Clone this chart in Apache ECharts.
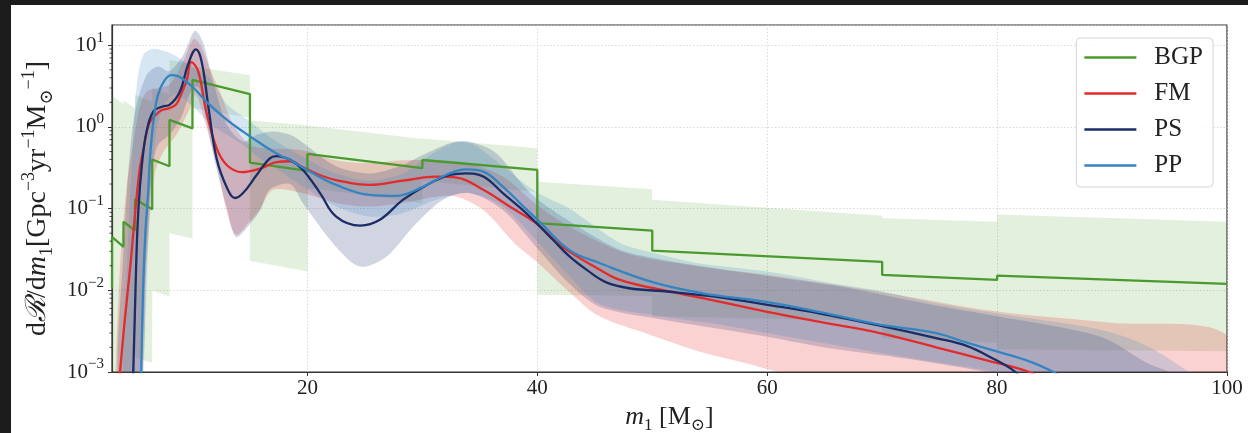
<!DOCTYPE html>
<html>
<head>
<meta charset="utf-8">
<title>dR/dm1</title>
<script src="https://cdn.jsdelivr.net/npm/echarts@6/dist/echarts.min.js"></script>
<style>
  body { margin: 0; background: #1c1c1c; }
  #main { position: absolute; left: 11px; top: 5px; width: 1237px; height: 428px; background: #fff; }
</style>
</head>
<body>
<div id="main"></div>
<script>
var FONT = '"Liberation Serif", "DejaVu Serif", serif'
var TXT = '#222'

// series colours
var cBGP = '#4b9a2d'
var cFM = '#e32b2b'
var cPS = '#1a2d66'
var cPP = '#3484c3'

// ---- BGP (binned, edges doubled for the steps) ----
var bgpLine = [
  [3, 0.0105], [3, 0.045], [4, 0.034], [4, 0.069], [5, 0.054], [5, 0.13],
  [6.5, 0.098], [6.5, 0.40], [8, 0.33], [8, 1.22], [10, 0.96], [10, 3.76],
  [15, 2.53], [15, 0.366], [20, 0.289], [20, 0.467], [30, 0.313], [30, 0.394],
  [40, 0.298], [40, 0.0663], [50, 0.0538], [50, 0.0306], [70, 0.0223],
  [70, 0.01545], [80, 0.0134], [80, 0.0151], [100, 0.01198]
]
var bgpUpper = [
  [3, 2.4], [4, 1.9], [4, 2.1], [5, 1.7], [5, 2.5], [6.5, 2.0], [6.5, 3.0],
  [8, 2.5], [8, 6.6], [10, 6.0], [10, 5.5], [15, 4.3], [15, 1.2], [20, 1.05],
  [20, 1.04], [30, 0.71], [30, 0.72], [40, 0.55], [40, 0.214], [50, 0.173],
  [50, 0.128], [70, 0.082], [70, 0.076], [80, 0.069], [80, 0.085], [100, 0.069]
]
var bgpLower = [
  [3, 0.0002], [4, 0.0002], [4, 0.0003], [5, 0.0003], [5, 0.0015], [6.5, 0.0013],
  [6.5, 0.010], [8, 0.0084], [8, 0.05], [10, 0.043], [10, 1.7], [15, 1.3],
  [15, 0.023], [20, 0.017], [20, 0.18], [30, 0.117], [30, 0.22], [40, 0.16],
  [40, 0.0088], [50, 0.0085], [50, 0.0048], [70, 0.0042], [70, 0.0026],
  [80, 0.0023], [80, 0.0019], [100, 0.0018]
]

// ---- FM ----
var fmLine = [
  [3.6, 0.0007], [4.1, 0.0042], [4.6, 0.02], [5.0, 0.085], [5.4, 0.3], [5.7, 0.5],
  [6.0, 0.84], [6.3, 1.15], [6.8, 1.4], [7.3, 1.6], [8.0, 1.7], [8.6, 1.9],
  [9.1, 2.7], [9.5, 3.7], [9.9, 6.2], [10.5, 4.8], [11.2, 1.55], [12.1, 0.55],
  [13.0, 0.34], [14.3, 0.28], [15.9, 0.31], [17.3, 0.37], [18.5, 0.38],
  [19.6, 0.32], [21, 0.26], [22.5, 0.224], [25.4, 0.195], [28.3, 0.22],
  [31.2, 0.247], [33.0, 0.24], [35.3, 0.17], [37.6, 0.106], [39.9, 0.066],
  [42.2, 0.034], [45.4, 0.018], [47.2, 0.0134], [50.1, 0.0106], [54.4, 0.008],
  [59.9, 0.0055], [64.6, 0.0041], [69.8, 0.003], [74.7, 0.002], [79.0, 0.0014],
  [82.8, 0.001], [84, 0.0008]
]
var fmUpper = [
  [3.3, 0.0008], [3.7, 0.02], [4.3, 0.2], [4.9, 0.7], [5.4, 1.7], [6.0, 2.7],
  [7.0, 3.0], [8.0, 3.3], [9.2, 6.3], [10.1, 12], [10.7, 10], [11.5, 5.2],
  [12.4, 2.7], [13.5, 1.1], [15.0, 0.6], [16.5, 0.55], [19.6, 0.52], [22.5, 0.39],
  [25.4, 0.36], [28.3, 0.39], [31.2, 0.39], [34, 0.36], [37, 0.247], [40, 0.11],
  [42.8, 0.06], [47.2, 0.03], [50, 0.024], [56, 0.018], [60, 0.0155], [70, 0.0095],
  [80, 0.0055], [90, 0.004], [100, 0.0028]
]
var fmLower = [
  [3.4, 0.0002], [5.5, 0.0008], [6.0, 0.02], [6.7, 0.26], [7.5, 0.5], [8.6, 0.8],
  [9.8, 1.7], [10.3, 2.5], [11.2, 1.0], [12.1, 0.35], [13.0, 0.09], [13.8, 0.048],
  [15.0, 0.07], [15.9, 0.1], [17.0, 0.17], [19.6, 0.155], [22.5, 0.117],
  [25.4, 0.106], [28.3, 0.117], [31.2, 0.14], [33, 0.14], [35.3, 0.096],
  [38, 0.038], [40, 0.022], [42.8, 0.0095], [45.4, 0.0048], [50, 0.0028],
  [54, 0.0018], [58, 0.0013], [61, 0.001], [70, 0.0005], [85, 0.0003], [100, 0.0002]
]

// ---- PS ----
var psLine = [
  [4.7, 0.0004], [4.85, 0.001], [5.1, 0.02], [5.3, 0.1], [5.6, 0.34], [6.0, 0.87],
  [6.6, 1.55], [7.4, 1.78], [8.0, 1.86], [8.9, 2.7], [9.6, 5.7], [10.3, 8.9],
  [10.8, 6.3], [11.4, 1.7], [12.1, 0.41], [13.0, 0.18], [13.7, 0.135],
  [14.4, 0.155], [15.6, 0.26], [16.7, 0.41], [17.3, 0.44], [18.5, 0.395],
  [19.6, 0.30], [21.1, 0.155], [22.5, 0.080], [24.6, 0.062], [26.3, 0.073],
  [28.3, 0.128], [30.4, 0.195], [32.4, 0.258], [33.8, 0.27], [35.3, 0.247],
  [37.0, 0.155], [38.6, 0.1], [40.0, 0.065], [41.4, 0.041], [42.8, 0.026],
  [44.3, 0.0178], [46.0, 0.0125], [48.0, 0.0106], [51.5, 0.0096], [55.9, 0.0082],
  [59.9, 0.0067], [64.6, 0.0052], [69.8, 0.0037], [74.7, 0.0026], [77.3, 0.0021],
  [79.9, 0.0014], [81.2, 0.0011], [82.0, 0.0009], [83, 0.0007]
]
var psUpper = [
  [3.5, 0.0008], [4.0, 0.03], [4.5, 0.4], [5.0, 1.5], [6.0, 4.3], [7.0, 5.5],
  [8.0, 4.8], [9.2, 7.6], [10.2, 15], [10.9, 11], [11.8, 3.6], [13.0, 1.06],
  [14.4, 0.66], [15.6, 0.8], [17.0, 0.88], [18.5, 0.8], [19.6, 0.64], [22.5, 0.33],
  [25.4, 0.27], [28.0, 0.33], [30.0, 0.45], [32.4, 0.63], [34.1, 0.66],
  [36.4, 0.48], [38.8, 0.19], [40, 0.13], [42.8, 0.07], [47, 0.032], [50, 0.025],
  [54, 0.02], [60, 0.015], [65.7, 0.0115], [70, 0.0088], [74.4, 0.0066],
  [80, 0.0048], [89, 0.0027], [93, 0.0013], [95, 0.001], [96, 0.0008]
]
var psLower = [
  [4.6, 0.0003], [5.5, 0.001], [6.0, 0.03], [6.5, 0.3], [7.0, 0.6], [8.0, 0.8],
  [9.0, 1.3], [10.0, 3.0], [10.6, 3.0], [11.2, 1.2], [12.0, 0.35], [13.0, 0.1],
  [13.8, 0.045], [15.0, 0.065], [15.9, 0.096], [16.7, 0.17], [18.5, 0.2],
  [19.6, 0.117], [22.5, 0.034], [24.6, 0.0195], [26.9, 0.026], [29.2, 0.06],
  [31.8, 0.128], [34.1, 0.155], [37, 0.096], [39.9, 0.034], [42.8, 0.012],
  [45.4, 0.0063], [50, 0.0046], [54, 0.0037], [60, 0.0027], [65, 0.002],
  [70, 0.0016], [74.4, 0.0013], [79, 0.001], [85, 0.0006], [90, 0.0004]
]

// ---- PP ----
var ppLine = [
  [5.5, 0.0005], [5.7, 0.0101], [5.9, 0.05], [6.16, 0.17], [6.3, 0.41],
  [6.6, 1.16], [7.0, 2.47], [7.6, 3.76], [8.2, 4.3], [8.9, 4.1], [10.1, 3.0],
  [11.5, 1.86], [13.0, 1.22], [14.4, 0.875], [15.9, 0.63], [17.6, 0.45],
  [18.5, 0.394], [20.2, 0.284], [22.5, 0.195], [25.4, 0.147], [27.7, 0.143],
  [29.8, 0.178], [32.1, 0.26], [33.8, 0.303], [35.3, 0.284], [37.0, 0.186],
  [38.8, 0.106], [40.2, 0.069], [42.8, 0.031], [45.4, 0.0216], [50.1, 0.0125],
  [54.4, 0.0092], [59.9, 0.0072], [64.6, 0.0054], [69.8, 0.0038], [74.7, 0.003],
  [77.3, 0.0023], [79.9, 0.0018], [82.8, 0.00135], [84.9, 0.001], [86, 0.0008]
]
var ppUpper = [
  [4.0, 0.001], [4.3, 0.02], [4.7, 0.3], [5.15, 3.2], [5.7, 7.5], [6.5, 9],
  [7.5, 8.5], [8.5, 7.5], [9.5, 6], [10.5, 4.8], [11.5, 4.0], [13.0, 1.9],
  [15.0, 1.17], [16.7, 0.76], [19.6, 0.43], [22.5, 0.27], [25.4, 0.22],
  [28.3, 0.27], [30.4, 0.43], [33.0, 0.66], [34.5, 0.6], [37.0, 0.33],
  [39.9, 0.16], [42.8, 0.1], [47.2, 0.038], [50, 0.029], [54, 0.0215], [60, 0.017],
  [65.7, 0.0122], [70, 0.0097], [74.4, 0.0071], [80, 0.0052], [89, 0.0033],
  [93, 0.0021], [96.7, 0.001], [97.5, 0.0008]
]
var ppLower = [
  [5.6, 0.0002], [5.7, 0.0005], [6.0, 0.01], [6.3, 0.1], [6.8, 0.8], [7.5, 1.8],
  [8.5, 2.5], [10.0, 1.8], [11.5, 1.1], [13.0, 0.8], [14.4, 0.6], [16.0, 0.4],
  [17.0, 0.33], [19.6, 0.186], [22.5, 0.106], [25.4, 0.08], [28.3, 0.088],
  [31.2, 0.128], [34, 0.155], [37, 0.106], [39.9, 0.041], [42.8, 0.015],
  [45.4, 0.0068], [50, 0.005], [56, 0.0038], [60, 0.003], [70, 0.0017],
  [75, 0.0013], [80, 0.001], [85, 0.0007], [90, 0.0005]
]

var xMin = 3
var xMax = 100
var yMin = 0.001
var yMax = 17.7

// minor ticks of the log axis: 2..9 x 10^k
var minorTicks = []
for (var k = -3; k <= 1; k++) {
  for (var m = 2; m <= 9; m++) {
    var v = m * Math.pow(10, k)
    if (v < yMax) minorTicks.push([xMin, v])
  }
}

var myChart = echarts.init(document.getElementById('main'))

function supNum(e) {
  return e < 0 ? '\u2212' + Math.abs(e) : '' + e
}

function bandSeries(name, upper, lower, color, smooth) {
  return {
    name: name,
    type: 'custom',
    silent: true,
    clip: true,
    z: 1,
    data: [[10, 1]],
    renderItem: function(params, api) {
      var pts = []
      upper.forEach(function(p) {
        pts.push(api.coord(p))
      })
      lower
        .slice()
        .reverse()
        .forEach(function(p) {
          pts.push(api.coord(p))
        })
      return {
        type: 'polygon',
        shape: { points: pts, smooth: smooth },
        style: { fill: color }
      }
    }
  }
}

function lineSeries(name, data, color, smooth) {
  return {
    name: name,
    type: 'line',
    data: data,
    smooth: smooth,
    symbol: 'none',
    showSymbol: false,
    clip: true,
    z: 5,
    lineStyle: { color: color, width: 2.3 },
    itemStyle: { color: color }
  }
}

// axis titles, x and y
var richX = {
  n: { fontFamily: FONT, fontSize: 26, color: TXT, lineHeight: 34 },
  i: { fontFamily: FONT, fontSize: 26, fontStyle: 'italic', color: TXT, lineHeight: 34 },
  sp: { fontFamily: FONT, fontSize: 17, color: TXT, verticalAlign: 'top', lineHeight: 17 },
  sb: { fontFamily: FONT, fontSize: 17, color: TXT, verticalAlign: 'bottom', lineHeight: 17 }
}
var richY = {
  n: { fontFamily: FONT, fontSize: 28, color: TXT, lineHeight: 36 },
  i: { fontFamily: FONT, fontSize: 28, fontStyle: 'italic', color: TXT, lineHeight: 36 },
  sp: { fontFamily: FONT, fontSize: 18, color: TXT, verticalAlign: 'top', lineHeight: 18 },
  sb: { fontFamily: FONT, fontSize: 18, color: TXT, verticalAlign: 'bottom', lineHeight: 18 }
}
var gridLine = { color: '#cdcdcd', type: [1.2, 2.2], width: 0.9 }

var option = {
  animation: false,
  grid: {
    left: 101,
    top: 20,
    right: 21,
    bottom: 61,
    outerBoundsMode: 'none',
    show: true,
    borderColor: '#333',
    borderWidth: 1.2,
    backgroundColor: 'transparent'
  },
  legend: {
    data: ['BGP', 'FM', 'PS', 'PP'],
    orient: 'vertical',
    right: 35,
    top: 33,
    icon: 'rect',
    itemWidth: 52,
    itemHeight: 2.6,
    itemGap: 11,
    padding: [7, 10, 9, 8],
    borderColor: '#d4d4d4',
    borderWidth: 1,
    borderRadius: 4,
    backgroundColor: 'rgba(255,255,255,0.85)',
    textStyle: {
      fontFamily: FONT,
      fontSize: 25,
      color: TXT,
      lineHeight: 24,
      padding: [0, 0, 0, 13]
    }
  },
  xAxis: {
    type: 'value',
    min: xMin,
    max: xMax,
    name: '{i|m}{sb|1}{n| [M}{sb|\u2299}{n|]}',
    nameLocation: 'middle',
    nameGap: 24,
    nameTextStyle: { rich: richX },
    axisLine: { onZero: false, lineStyle: { color: '#333', width: 1.2 } },
    axisTick: { inside: false, length: 4, lineStyle: { color: '#333' } },
    axisLabel: {
      margin: 6,
      fontFamily: FONT,
      fontSize: 21,
      color: TXT,
      showMinLabel: false,
      formatter: function(v) {
        return v % 20 === 0 ? '' + v : ''
      }
    },
    splitLine: { show: true, lineStyle: gridLine }
  },
  yAxis: {
    type: 'log',
    logBase: 10,
    min: yMin,
    max: yMax,
    name:
      '{n|d}{i|\u211B}{n|/d}{i|m}{sb|1}{n|[Gpc}{sp|\u22123}{n|yr}{sp|\u22121}{n|M}{sb|\u2299}{sp|\u22121}{n|]}',
    nameLocation: 'middle',
    nameGap: 49,
    nameTextStyle: { rich: richY },
    axisLine: { lineStyle: { color: '#333', width: 1.2 } },
    axisTick: { inside: false, length: 4, lineStyle: { color: '#333' } },
    axisLabel: {
      margin: 8,
      showMaxLabel: false,
      formatter: function(v) {
        var e = Math.round(Math.log10(v))
        if (Math.abs(Math.pow(10, e) - v) / v > 1e-6) return ''
        return '{b|10}{s|' + supNum(e) + '}'
      },
      rich: {
        b: { fontFamily: FONT, fontSize: 21, color: TXT, lineHeight: 30 },
        s: { fontFamily: FONT, fontSize: 15, color: TXT, verticalAlign: 'top', lineHeight: 15 }
      }
    },
    splitLine: { show: true, lineStyle: gridLine }
  },
  series: [
    bandSeries('BGP band', bgpUpper, bgpLower, 'rgba(77,160,44,0.16)', 0),
    bandSeries('FM band', fmUpper, fmLower, 'rgba(228,30,30,0.2)', 0.3),
    bandSeries('PS band', psUpper, psLower, 'rgba(25,45,110,0.2)', 0.3),
    bandSeries('PP band', ppUpper, ppLower, 'rgba(52,132,195,0.2)', 0.3),
    lineSeries('BGP', bgpLine, cBGP, false),
    lineSeries('FM', fmLine, cFM, 0.4),
    lineSeries('PS', psLine, cPS, 0.4),
    lineSeries('PP', ppLine, cPP, 0.4),
    {
      // minor ticks on the log axis, drawn outside the left spine
      name: 'minor',
      type: 'custom',
      silent: true,
      clip: false,
      z: 6,
      data: minorTicks,
      renderItem: function(params, api) {
        var p = api.coord([api.value(0), api.value(1)])
        return {
          type: 'line',
          shape: { x1: p[0] - 2.5, y1: p[1], x2: p[0], y2: p[1] },
          style: { stroke: '#333', lineWidth: 0.9 }
        }
      }
    }
  ]
}

myChart.setOption(option)
window.onresize = function() {
  myChart.resize()
}
</script>
</body>
</html>
